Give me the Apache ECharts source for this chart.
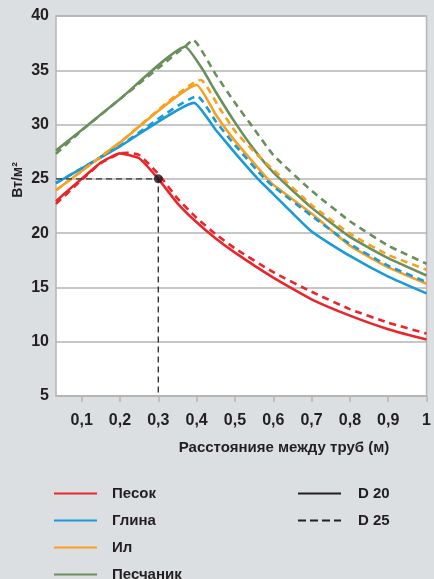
<!DOCTYPE html>
<html>
<head>
<meta charset="utf-8">
<script src="https://cdn.jsdelivr.net/npm/echarts@6/dist/echarts.min.js"></script>
<style>
html,body{margin:0;padding:0;background:#dcdfe2;}
#chart{width:434px;height:579px;}
</style>
</head>
<body>
<div id="chart"></div>
<script>
// ---- data ----
const xMin = 0.033, xMax = 1.0;
const yMin = 5, yMax = 40, yStep = 5;
const xTicks = [0.1, 0.2, 0.3, 0.4, 0.5, 0.6, 0.7, 0.8, 0.9, 1.0];
const xTickLabels = ['0,1', '0,2', '0,3', '0,4', '0,5', '0,6', '0,7', '0,8', '0,9', '1'];
const soils = ['Песок', 'Глина', 'Ил', 'Песчаник'];
const diameters = ['D 20', 'D 25'];
const xTitle = 'Расстоянияе между труб (м)';
const yTitle = 'Вт/м²';

// Песок
const sandD20X = [0.033, 0.07, 0.1, 0.15, 0.2, 0.25, 0.3, 0.35, 0.4, 0.45, 0.5, 0.6, 0.7, 0.8, 0.9, 1.0];
const sandD20Y = [22.95, 24.1, 25.0, 26.5, 27.35, 26.9, 25.0, 22.75, 21.0, 19.5, 18.2, 15.9, 13.9, 12.4, 11.15, 10.2];
const sandD25X = [0.033, 0.1, 0.15, 0.2, 0.22, 0.25, 0.3, 0.35, 0.4, 0.45, 0.5, 0.6, 0.7, 0.8, 0.9, 1.0];
const sandD25Y = [22.7, 24.9, 26.45, 27.35, 27.4, 27.2, 25.45, 23.2, 21.4, 19.9, 18.6, 16.4, 14.6, 13.0, 11.75, 10.75];
// Глина
const clayD20X = [0.033, 0.2, 0.393, 0.45, 0.5, 0.56, 0.6, 0.7, 0.8, 0.9, 1.0];
const clayD20Y = [24.6, 28.0, 32.0, 29.5, 27.4, 25.0, 23.6, 20.15, 17.9, 16.0, 14.45];
const clayD25X = [0.033, 0.2, 0.402, 0.45, 0.5, 0.578, 0.6, 0.7, 0.8, 0.9, 1.0];
const clayD25Y = [24.6, 28.05, 32.6, 30.3, 28.1, 25.0, 24.3, 21.6, 19.0, 17.0, 15.5];
// Ил
const siltD20X = [0.033, 0.2, 0.4, 0.45, 0.5, 0.585, 0.6, 0.7, 0.8, 0.9, 1.0];
const siltD20Y = [23.95, 28.36, 33.65, 30.9, 28.5, 25.0, 24.45, 21.8, 18.85, 16.85, 15.34];
const siltD25X = [0.033, 0.2, 0.411, 0.46, 0.5, 0.55, 0.6, 0.7, 0.8, 0.9, 1.0];
const siltD25Y = [23.95, 28.36, 34.1, 31.5, 29.4, 27.5, 25.85, 22.6, 19.95, 18.0, 16.63];
// Песчаник
const sandstoneD20X = [0.033, 0.1, 0.2, 0.37, 0.417, 0.45, 0.5, 0.55, 0.6, 0.7, 0.8, 0.9, 1.0];
const sandstoneD20Y = [27.6, 29.5, 32.35, 37.17, 35.0, 33.0, 30.2, 27.7, 25.6, 22.35, 19.65, 17.7, 16.1];
const sandstoneD25X = [0.033, 0.1, 0.2, 0.37, 0.391, 0.45, 0.5, 0.55, 0.6, 0.7, 0.8, 0.9, 1.0];
const sandstoneD25Y = [27.3, 29.45, 32.35, 37.2, 37.8, 34.6, 32.0, 29.6, 27.2, 23.9, 21.1, 18.85, 17.18];

// marked point
const markX = [0.3];
const markY = [25];

// ---- styles ----
const colors = {'Песок': '#e8262b', 'Глина': '#1a9ad6', 'Ил': '#f7a021', 'Песчаник': '#6b8f5c'};
const ink = '#231f20';
const font = '"Liberation Sans", Arial, sans-serif';
const dashPattern = [7, 5];

function zip(xs, ys) { return xs.map((x, i) => [x, ys[i]]); }

function soilSeries(name, xs, ys, dashed) {
  return {
    type: 'line', name: name, data: zip(xs, ys),
    smooth: 0.15, symbol: 'none', silent: true,
    lineStyle: {color: colors[name], width: 2.6, type: dashed ? dashPattern : 'solid'},
    itemStyle: {color: colors[name]},
    z: 3
  };
}

const series = [
  soilSeries('Песок', sandD20X, sandD20Y, false),
  soilSeries('Глина', clayD20X, clayD20Y, false),
  soilSeries('Ил', siltD20X, siltD20Y, false),
  soilSeries('Песчаник', sandstoneD20X, sandstoneD20Y, false),
  soilSeries('Песок', sandD25X, sandD25Y, true),
  soilSeries('Глина', clayD25X, clayD25Y, true),
  soilSeries('Ил', siltD25X, siltD25Y, true),
  soilSeries('Песчаник', sandstoneD25X, sandstoneD25Y, true),
  {type: 'line', name: 'D 20', data: [], symbol: 'none',
   lineStyle: {color: ink, width: 2.6, type: 'solid'}, itemStyle: {color: ink}},
  {type: 'line', name: 'D 25', data: [], symbol: 'none',
   lineStyle: {color: ink, width: 2.6, type: [8, 4]}, itemStyle: {color: ink}},
  {type: 'line', name: 'guide', silent: true, symbol: 'none', z: 4,
   data: [[xMin, markY[0]], [markX[0], markY[0]], [markX[0], yMin]],
   lineStyle: {color: '#333', width: 1.4, type: [6, 4]}},
  {type: 'scatter', name: 'point', silent: true, z: 5,
   data: zip(markX, markY), symbolSize: 9, itemStyle: {color: '#1a1a1a'}}
];

const legendText = {color: ink, fontWeight: 'bold', fontSize: 15, fontFamily: font};

const chart = echarts.init(document.getElementById('chart'), null, {renderer: 'canvas'});
chart.setOption({
  backgroundColor: '#dcdfe2',
  animation: false,
  grid: {left: 56, right: 3, top: 16, bottom: 183, show: true,
         backgroundColor: '#ffffff', borderColor: '#b5b5b5', borderWidth: 1.5},
  xAxis: {
    type: 'value', min: xMin, max: xMax,
    axisLine: {show: true, lineStyle: {color: '#b5b5b5', width: 1.5}},
    axisTick: {show: true, customValues: xTicks, length: 6, lineStyle: {color: '#b5b5b5', width: 1.5}},
    axisLabel: {customValues: xTicks, margin: 17, color: ink, fontWeight: 'bold',
      fontSize: 16, fontFamily: font,
      formatter: function (v) { const i = xTicks.findIndex(t => Math.abs(t - v) < 1e-6); return i >= 0 ? xTickLabels[i] : ''; }},
    splitLine: {show: false}
  },
  yAxis: {
    type: 'value', min: yMin, max: yMax, interval: yStep,
    axisLine: {show: false}, axisTick: {show: false},
    axisLabel: {margin: 7, color: ink, fontWeight: 'bold', fontSize: 16, fontFamily: font},
    splitLine: {show: true, lineStyle: {color: '#b5b5b5', width: 1.5}}
  },
  legend: [
    {data: soils, orient: 'vertical', left: 53, top: 485, height: 130, padding: 0,
     itemWidth: 43, itemHeight: 8, itemGap: 10, selectedMode: false,
     itemStyle: {opacity: 0},
     textStyle: Object.assign({padding: [0, 0, 0, 10], lineHeight: 17}, legendText)},
    {data: diameters, orient: 'vertical', left: 297, top: 485, height: 130, padding: 0,
     itemWidth: 43, itemHeight: 8, itemGap: 10, selectedMode: false,
     itemStyle: {opacity: 0},
     textStyle: Object.assign({padding: [0, 0, 0, 12], lineHeight: 17}, legendText)}
  ],
  graphic: [
    {type: 'text', x: 284, y: 448, style: {text: xTitle, fill: ink, font: 'bold 15px ' + font,
      textAlign: 'center', textVerticalAlign: 'middle'}},
    {type: 'text', x: 18, y: 180, rotation: Math.PI / 2, style: {text: yTitle, fill: ink,
      font: 'bold 14px ' + font, textAlign: 'center', textVerticalAlign: 'middle'}}
  ],
  series: series
});
</script>
</body>
</html>
